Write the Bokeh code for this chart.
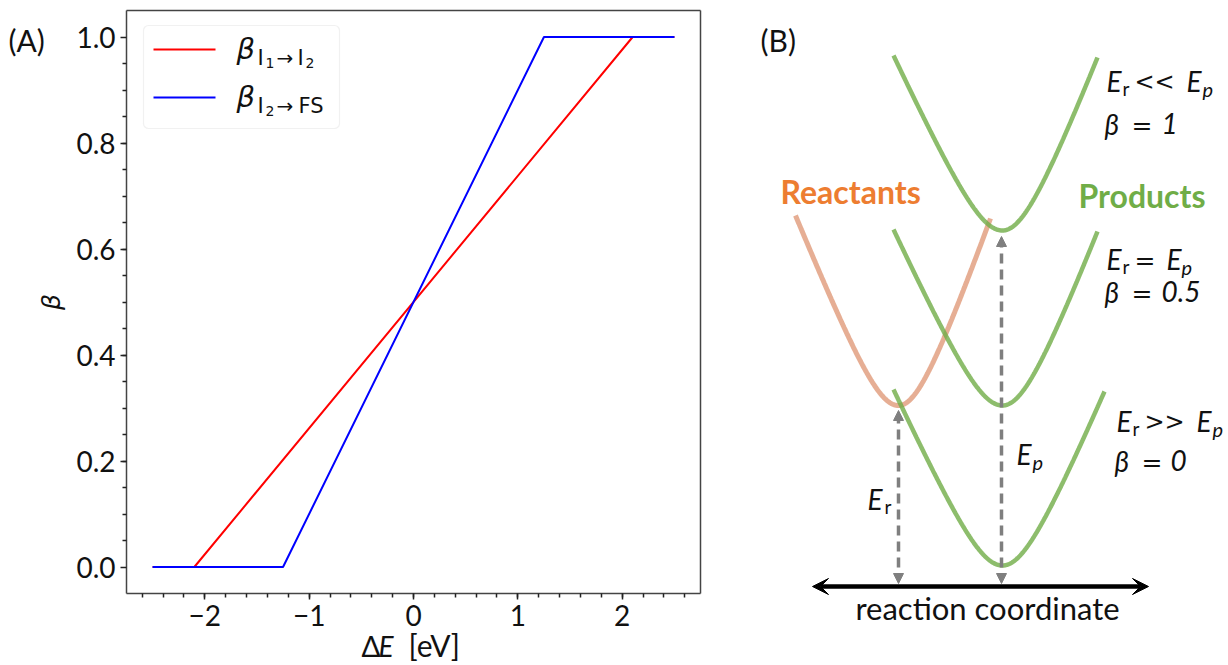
import numpy as np
from bokeh.plotting import figure
from bokeh.layouts import row
from bokeh.models import (Range1d, FixedTicker, PrintfTickFormatter, Label, LinearAxis,
                          BoxAnnotation, Arrow, NormalHead, VeeHead)
from bokeh.embed import file_html
from bokeh.resources import INLINE

# ---------------- data: panel (A) ----------------
# piecewise-linear transfer coefficients vs reaction energy
dE_I1_I2 = [-2.5, -2.1, 2.1, 2.5]
beta_I1_I2 = [0.0, 0.0, 1.0, 1.0]
dE_I2_FS = [-2.5, -1.25, 1.25, 2.5]
beta_I2_FS = [0.0, 0.0, 1.0, 1.0]

x_major = [-2, -1, 0, 1, 2]
x_labels = {-2: "\u22122", -1: "\u22121", 0: "0", 1: "1", 2: "2"}
y_major = [0.0, 0.2, 0.4, 0.6, 0.8, 1.0]

# ---------------- data: panel (B) schematic ----------------
# wells: minimum (q, E), left end (q, E), right end (q, E)
product_min_q = [1002, 1002, 1002]
product_min_E = [435, 260, 100]
product_left_q = [893, 893, 893]
product_left_E = [610, 436, 276]
product_right_q = [1097, 1097, 1104]
product_right_E = [608, 434, 274]

reactant_min = (898, 260)
reactant_left = (795, 450)
reactant_right = (990, 447)

coord_axis_q = (812, 1148)
coord_axis_E = 79

FONT = "Lato"
MATH = "DejaVu Sans"
GREEN = "#70AD47"
ORANGE = "#ED7D31"
GREY = "#7f7f7f"
K = "#111111"
SPINE = "#444444"

# ======================= panel (A) =======================
# the drawing area spans the whole canvas; the axes box sits inside it
W_A, H_A = 740, 665
BOX_L, BOX_R, BOX_T, BOX_B = 126, 700, 10, 593
xr = (-2.75, 2.75)
yr = (-0.05, 1.05)
sx = (BOX_R - BOX_L) / (xr[1] - xr[0])
sy = (BOX_B - BOX_T) / (yr[1] - yr[0])
x_full = (xr[0] - BOX_L / sx, xr[1] + (W_A - BOX_R) / sx)
y_full = (yr[0] - (H_A - BOX_B) / sy, yr[1] + BOX_T / sy)

pa = figure(width=W_A, height=H_A, x_range=Range1d(*x_full), y_range=Range1d(*y_full),
            output_backend="svg", toolbar_location=None, x_axis_location=None,
            y_axis_location=None, min_border=0, min_border_left=0, min_border_right=0,
            min_border_top=0, min_border_bottom=0)
pa.grid.visible = False
pa.outline_line_color = None
pa.background_fill_color = "white"
pa.border_fill_color = "white"


def ax(px):
    return xr[0] + (px - BOX_L) / sx


def ay(py):
    return yr[1] - (py - BOX_T) / sy


def style_axis(axis, ticks=True):
    axis.axis_line_color = SPINE
    axis.axis_line_width = 1.5
    axis.major_tick_line_color = "#222222"
    axis.minor_tick_line_color = "#222222"
    axis.major_tick_line_width = 1.5
    axis.minor_tick_line_width = 1.5
    axis.major_tick_in = 0
    axis.major_tick_out = 6 if ticks else 0
    axis.minor_tick_in = 0
    axis.minor_tick_out = 4 if ticks else 0
    axis.major_label_standoff = 5
    axis.major_label_text_font = FONT
    axis.major_label_text_font_size = "28px"
    axis.major_label_text_color = K
    if not ticks:
        axis.major_label_text_font_size = "0px"
        axis.major_tick_line_color = None
        axis.minor_tick_line_color = None


xaxis = LinearAxis(fixed_location=yr[0], bounds=xr,
                   ticker=FixedTicker(ticks=x_major,
                                      minor_ticks=list(np.round(np.arange(-2.6, 2.61, 0.2), 2))),
                   major_label_overrides=x_labels)
style_axis(xaxis)
pa.add_layout(xaxis, "below")

yaxis = LinearAxis(fixed_location=xr[0], bounds=yr,
                   ticker=FixedTicker(ticks=y_major,
                                      minor_ticks=list(np.round(np.arange(0.05, 0.96, 0.05), 2))),
                   formatter=PrintfTickFormatter(format="%.1f"))
style_axis(yaxis)
yaxis.axis_label = "\u03b2"
yaxis.axis_label_text_font = MATH
yaxis.axis_label_text_font_style = "italic"
yaxis.axis_label_text_font_size = "25px"
yaxis.axis_label_standoff = 7
yaxis.axis_label_text_color = K
pa.add_layout(yaxis, "left")

top_spine = LinearAxis(fixed_location=yr[1], bounds=xr, ticker=FixedTicker(ticks=[]))
style_axis(top_spine, ticks=False)
pa.add_layout(top_spine, "above")
right_spine = LinearAxis(fixed_location=xr[1], bounds=yr, ticker=FixedTicker(ticks=[]))
style_axis(right_spine, ticks=False)
pa.add_layout(right_spine, "right")

pa.line(dE_I1_I2, beta_I1_I2, line_color="#ff0000", line_width=2)
pa.line(dE_I2_FS, beta_I2_FS, line_color="#0000ff", line_width=2)


def put(fig, pieces, left, height):
    """Place text pieces given by canvas-pixel baseline positions."""
    for txt, px, py, size, style, font, color in pieces:
        # labels are anchored near the middle of the text box: lift by ~0.42 em
        fig.add_layout(Label(x=px - left, y=height - (py - 0.42 * size),
                             x_units="screen", y_units="screen",
                             text=txt, text_font=font,
                             text_font_size=f"{size}px", text_font_style=style,
                             text_color=color, text_align="left",
                             text_baseline="alphabetic"))


# legend frame and samples
pa.add_layout(BoxAnnotation(left=ax(143), right=ax(339), top=ay(25), bottom=ay(128),
                            fill_color="white", fill_alpha=0.85, level="underlay",
                            line_color="#d0d0d0", line_width=1.2, border_radius=5))
pa.line([ax(153), ax(215)], [ay(49), ay(49)], line_color="#ff0000", line_width=2)
pa.line([ax(153), ax(215)], [ay(97), ay(97)], line_color="#0000ff", line_width=2)

put(pa, [
    ("\u03b2", 236, 61, 29, "italic", MATH, K),
    ("I", 257, 66, 21, "normal", MATH, K),
    ("1", 265, 68, 14, "normal", MATH, K),
    ("\u2192", 276, 66, 20, "normal", MATH, K),
    ("I", 297, 66, 21, "normal", MATH, K),
    ("2", 305, 68, 14, "normal", MATH, K),
    ("\u03b2", 236, 109, 29, "italic", MATH, K),
    ("I", 257, 114, 21, "normal", MATH, K),
    ("2", 265, 116, 14, "normal", MATH, K),
    ("\u2192", 276, 114, 20, "normal", MATH, K),
    ("FS", 298, 114, 21, "normal", MATH, K),
    # panel tag and x-axis title
    ("(A)", 8, 52, 30, "normal", FONT, K),
    ("\u0394", 361, 657, 28, "normal", FONT, K),
    ("E", 378, 657, 28, "italic", FONT, K),
    ("[eV]", 408, 657, 30, "normal", FONT, K),
], 0, H_A)

# ======================= panel (B) =======================
W_B = 1228 - W_A
pb = figure(width=W_B, height=H_A, x_range=Range1d(W_A, 1228), y_range=Range1d(0, H_A),
            output_backend="svg", toolbar_location=None, x_axis_location=None,
            y_axis_location=None, min_border=0, min_border_left=0, min_border_right=0,
            min_border_top=0, min_border_bottom=0)
pb.grid.visible = False
pb.outline_line_color = None
pb.background_fill_color = "white"
pb.border_fill_color = "white"


def well(q0, e0, qa, ea, qb, eb, w, n=200):
    """Rounded well through its minimum and both end points."""
    kl = (ea - e0) / (np.sqrt(1 + ((q0 - qa) / w) ** 2) - 1)
    kr = (eb - e0) / (np.sqrt(1 + ((qb - q0) / w) ** 2) - 1)
    ql = np.linspace(qa, q0, n)
    qr = np.linspace(q0, qb, n)
    el = e0 + kl * (np.sqrt(1 + ((ql - q0) / w) ** 2) - 1)
    er = e0 + kr * (np.sqrt(1 + ((qr - q0) / w) ** 2) - 1)
    return np.concatenate([ql, qr[1:]]), np.concatenate([el, er[1:]])


qx, ex = well(reactant_min[0], reactant_min[1], reactant_left[0], reactant_left[1],
              reactant_right[0], reactant_right[1], 32)
pb.line(qx, ex, line_color="#D9825A", line_alpha=0.65, line_width=5, line_cap="butt")

for i in range(3):
    qx, ex = well(product_min_q[i], product_min_E[i], product_left_q[i], product_left_E[i],
                  product_right_q[i], product_right_E[i], 35)
    pb.line(qx, ex, line_color=GREEN, line_alpha=0.8, line_width=4.5, line_cap="butt")

# energy arrows down to the reaction-coordinate axis
for q_arrow, e_top in ((reactant_min[0], reactant_min[1] - 5),
                       (product_min_q[0] - 1, product_min_E[0] - 6)):
    pb.add_layout(Arrow(x_start=q_arrow, y_start=coord_axis_E + 3, x_end=q_arrow, y_end=e_top,
                        line_color=GREY, line_width=3.5, line_dash="10 6",
                        start=NormalHead(size=10, fill_color=GREY, line_color=GREY, line_width=1),
                        end=NormalHead(size=10, fill_color=GREY, line_color=GREY, line_width=1)))

pb.add_layout(Arrow(x_start=coord_axis_q[0], y_start=coord_axis_E,
                    x_end=coord_axis_q[1], y_end=coord_axis_E,
                    line_color="black", line_width=4.5,
                    start=VeeHead(size=16, fill_color="black", line_color="black", line_width=1),
                    end=VeeHead(size=16, fill_color="black", line_color="black", line_width=1)))

put(pb, [
    ("(B)", 760, 52, 30, "normal", FONT, K),
    ("Reactants", 780, 204, 32, "bold", FONT, ORANGE),
    ("Products", 1078, 208, 32, "bold", FONT, GREEN),
    # E_r << E_p, beta = 1
    ("E", 1106, 92, 28, "italic", FONT, K),
    ("r", 1122, 96, 19, "normal", FONT, K),
    ("<<", 1134, 92, 24, "normal", MATH, K),
    ("E", 1186, 92, 28, "italic", FONT, K),
    ("p", 1202, 97, 20, "italic", FONT, K),
    ("\u03b2", 1104, 135, 28, "italic", FONT, K),
    ("=", 1131, 135, 25, "normal", MATH, K),
    ("1", 1161, 135, 28, "italic", FONT, K),
    # E_r = E_p, beta = 0.5
    ("E", 1106, 270, 28, "italic", FONT, K),
    ("r", 1122, 274, 19, "normal", FONT, K),
    ("=", 1134, 270, 25, "normal", MATH, K),
    ("E", 1166, 270, 28, "italic", FONT, K),
    ("p", 1181, 275, 20, "italic", FONT, K),
    ("\u03b2", 1104, 303, 28, "italic", FONT, K),
    ("=", 1131, 303, 25, "normal", MATH, K),
    ("0.5", 1161, 303, 28, "italic", FONT, K),
    # E_r >> E_p, beta = 0
    ("E", 1116, 432, 28, "italic", FONT, K),
    ("r", 1132, 436, 19, "normal", FONT, K),
    (">>", 1144, 432, 24, "normal", MATH, K),
    ("E", 1196, 432, 28, "italic", FONT, K),
    ("p", 1212, 437, 20, "italic", FONT, K),
    ("\u03b2", 1114, 472, 28, "italic", FONT, K),
    ("=", 1141, 472, 25, "normal", MATH, K),
    ("0", 1170, 472, 28, "italic", FONT, K),
    # arrow labels
    ("E", 1016, 465, 28, "italic", FONT, K),
    ("p", 1032, 470, 20, "italic", FONT, K),
    ("E", 867, 510, 28, "italic", FONT, K),
    ("r", 884, 514, 19, "normal", FONT, K),
], W_A, H_A)

pb.add_layout(Label(x=987 - W_A, y=H_A - (621 - 0.42 * 31), x_units="screen", y_units="screen",
                    text="reaction coordinate", text_font=FONT,
                    text_font_size="31px", text_color=K, text_align="center",
                    text_baseline="alphabetic"))

layout = row(pa, pb)
open("out.html", "w").write(file_html(layout, INLINE))
